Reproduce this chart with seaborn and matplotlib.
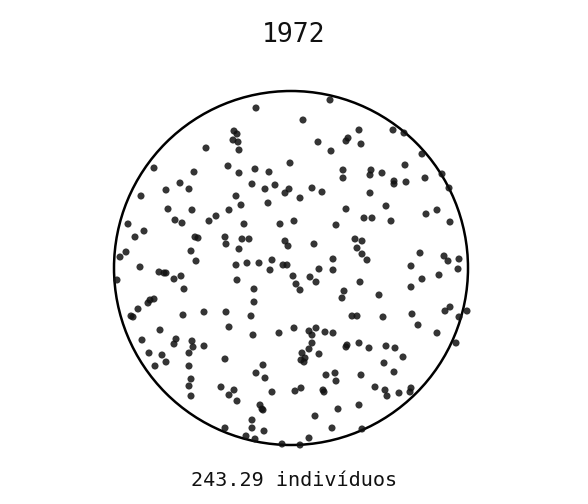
import matplotlib
matplotlib.use("Agg")
import matplotlib.pyplot as plt
import seaborn as sns
import numpy as np
import pandas as pd

year = "1972"
caption = "243.29 indivíduos"

# point positions (pixel-like units, y grows downward)
px = [206, 154, 228, 194, 180, 166, 189, 141,
      330, 256, 303, 234, 237, 233, 238, 239, 318, 331, 348, 346, 290, 239,
      255, 269, 343, 343, 252, 265, 275, 289, 285, 312, 322, 300, 236, 241, 268,
      359, 393, 404, 361, 422, 405, 371, 370, 382, 394, 394, 406, 425, 442,
      449, 370, 386,
      168, 192, 128, 175, 182, 209, 216, 229, 144, 135, 195, 198, 225, 226,
      191, 126, 120, 196, 140, 159, 164, 166, 117, 174, 181, 184, 150, 154,
      148, 138, 131, 133, 183, 204, 226, 229,
      346, 244, 280, 294, 336, 242, 249, 285, 288, 314, 239, 236, 247, 259,
      272, 270, 283, 287, 333, 333, 319, 293, 310, 316, 296, 300, 237, 254,
      254, 251, 344, 342,
      437, 426, 364, 372, 391, 450, 355, 362, 357, 362, 367, 420, 444, 448,
      459, 411, 458, 360, 422, 439, 411, 379, 352, 357, 383, 412, 445, 450,
      459, 467, 418,
      160, 142, 176, 174, 192, 193, 204, 149, 162, 189, 166, 155, 189, 225,
      191, 189, 191, 221, 229, 225,
      253, 279, 294, 309, 312, 316, 325, 333, 347, 346, 312, 309, 319, 302,
      305, 301, 304, 263, 256, 265, 326, 335, 336, 234, 237, 272, 295, 301,
      323, 324, 260, 262, 263, 338, 315, 252, 252, 264, 332, 246, 255, 309,
      282, 300,
      437, 456, 359, 369, 386, 395, 384, 403, 394, 361, 375, 385, 387, 399,
      411, 410, 359, 362]
py = [148, 168, 166, 172, 183, 190, 189, 196,
      100, 108, 120, 131, 134, 140, 142, 150, 142, 151, 138, 141, 163, 173,
      169, 172, 170, 178, 184, 189, 185, 189, 193, 188, 192, 198, 196, 205, 203,
      130, 130, 133, 144, 154, 165, 170, 175, 173, 181, 184, 182, 178, 174,
      188, 193, 206,
      209, 210, 224, 220, 223, 221, 216, 210, 231, 237, 237, 238, 237, 244,
      251, 252, 257, 261, 267, 272, 273, 273, 280, 279, 276, 289, 300, 299,
      303, 309, 316, 317, 315, 312, 312, 327,
      209, 224, 224, 221, 225, 239, 239, 241, 246, 244, 249, 265, 263, 263,
      260, 270, 265, 265, 259, 270, 269, 276, 277, 282, 284, 290, 280, 289,
      302, 316, 291, 298,
      210, 214, 218, 218, 221, 222, 239, 241, 248, 254, 260, 253, 256, 261,
      259, 266, 269, 282, 279, 275, 287, 295, 316, 316, 317, 314, 311, 307,
      317, 311, 325,
      330, 340, 339, 344, 341, 347, 346, 353, 355, 353, 362, 366, 366, 359,
      379, 386, 396, 387, 395, 428,
      335, 333, 328, 331, 335, 328, 332, 333, 345, 347, 343, 349, 354, 353,
      358, 360, 362, 365, 373, 378, 375, 373, 381, 390, 401, 392, 391, 388,
      390, 392, 405, 409, 410, 409, 416, 420, 428, 431, 428, 436, 439, 438,
      444, 445,
      333, 343, 343, 348, 346, 348, 363, 357, 372, 375, 387, 390, 396, 393,
      388, 392, 405, 429]

# ring that holds the points
ring_center = (291, 268)
ring_radius = 177

df = pd.DataFrame({"x": px, "y": py})

sns.set_style("white")
plt.rcParams["font.family"] = ["DejaVu Sans Mono", "DejaVu Sans"]

fig = plt.figure(figsize=(5.88, 5.04), dpi=100)
ax = fig.add_axes([0, 0, 1, 1])
ax.set_xlim(0, 588)
ax.set_ylim(504, 0)
ax.set_aspect("equal")
ax.axis("off")

ring = plt.Circle(ring_center, ring_radius, fill=False, color="black", lw=1.8)
ax.add_patch(ring)

sns.scatterplot(data=df, x="x", y="y", ax=ax, s=26, color="#111111",
                alpha=0.85, edgecolor="none", legend=False)

ax.text(294, 35, year, ha="center", va="center", fontsize=19, color="#111111")
ax.text(294, 481, caption, ha="center", va="center", fontsize=14.5,
        color="#111111")

fig.savefig("out.png", dpi=100)
